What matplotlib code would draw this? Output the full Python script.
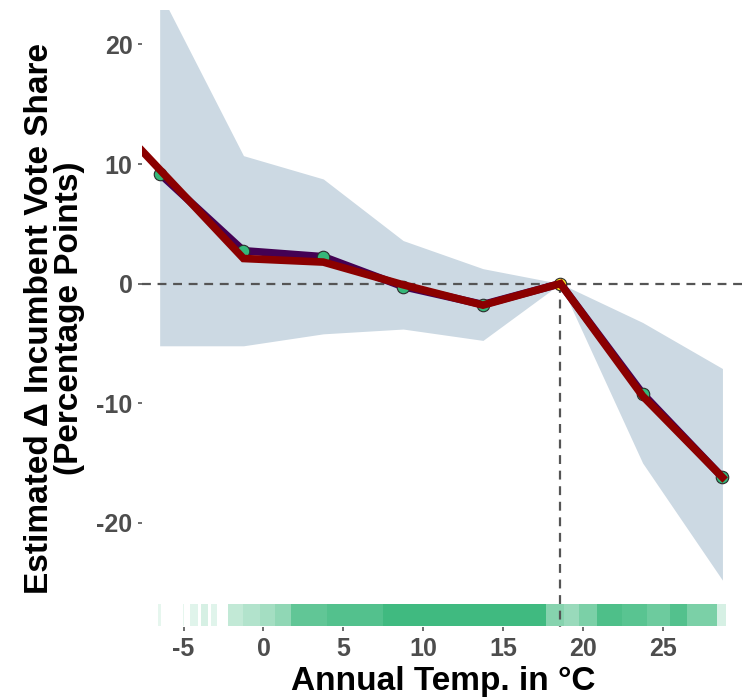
import matplotlib
matplotlib.use("Agg")
import matplotlib.pyplot as plt

# bin midpoints (annual temp, C) and estimates
temp_bins = [-6.5, -1.25, 3.75, 8.75, 13.75, 18.6, 23.75, 28.75]
est = [9.2, 2.75, 2.25, -0.25, -1.75, 0.0, -9.2, -16.2]
ci_upper = [24.4, 10.7, 8.75, 3.6, 1.25, 0.0, -3.25, -7.1]
ci_lower = [-5.2, -5.2, -4.2, -3.8, -4.75, 0.0, -15.0, -24.8]
ref_temp = 18.6

# second (red) fit
fit_x = [-7.6, -1.25, 3.75, 8.75, 13.75, 18.6, 23.75, 28.75]
fit_y = [11.1, 2.1, 1.8, -0.1, -1.8, 0.0, -9.4, -16.2]

# rug of observations: segments (start, end, opacity)
rug_start = [-6.6, -5.05, -4.6, -3.9, -3.3, -2.25, -1.3, -0.2, 0.75, 1.7, 4.0, 7.5,
             17.7, 18.85, 19.75, 20.9, 22.45, 24.0, 25.45, 26.55, 28.4]
rug_end = [-6.4, -4.95, -4.1, -3.5, -2.9, -1.3, -0.2, 0.75, 1.7, 4.0, 7.5, 17.7,
           18.85, 19.75, 20.9, 22.45, 24.0, 25.45, 26.55, 28.4, 29.0]
rug_alpha = [0.12, 0.12, 0.15, 0.2, 0.15, 0.3, 0.38, 0.45, 0.55, 0.78, 0.85, 0.95,
             0.6, 0.5, 0.65, 0.88, 0.82, 0.72, 0.85, 0.65, 0.2]

plt.rcParams['font.family'] = ['Liberation Sans', 'DejaVu Sans']
plt.rcParams['axes.unicode_minus'] = False

fig = plt.figure(figsize=(7.44, 6.98), dpi=100)
ax = fig.add_axes([0.191, 0.102, 0.809, 0.884])

green = "#35b779"

ax.fill_between(temp_bins, ci_lower, ci_upper, color="#ccd9e3", lw=0, zorder=1)

for a, b, al in zip(rug_start, rug_end, rug_alpha):
    ax.fill_between([a, b], -28.6, -26.8, color=green, alpha=al, lw=0, zorder=2)

ax.axhline(0, color="#555555", lw=1.6, ls=(0, (4, 3)), zorder=3)
ax.plot([ref_temp, ref_temp], [0, -30], color="#555555", lw=1.6, ls=(0, (4, 3)), zorder=3)

ax.plot(temp_bins, est, color="#440154", lw=5.5, solid_joinstyle="miter", zorder=4)
ax.plot(temp_bins[:5] + temp_bins[6:], est[:5] + est[6:], "o", color=green,
        mec="#2b2b2b", mew=0.8, ms=9, zorder=5)
ax.plot([ref_temp], [0], "o", color="#fde725", mec="#2b2b2b", mew=0.8, ms=9, zorder=5)
ax.plot(fit_x, fit_y, color="#8b0000", lw=5.5, solid_joinstyle="miter", zorder=6)

ax.set_xlim(-7.6, 30.1)
ax.set_ylim(-28.7, 22.9)
ax.set_xticks([-5, 0, 5, 10, 15, 20, 25])
ax.set_yticks([-20, -10, 0, 10, 20])
ax.tick_params(length=3, width=1.2, color="#555555", labelcolor="#4d4d4d",
               labelsize=18, pad=4)
for lab in ax.get_xticklabels() + ax.get_yticklabels():
    lab.set_fontweight("bold")
for s in ax.spines.values():
    s.set_visible(False)

ax.set_xlabel("Annual Temp. in °C", fontsize=24, fontweight="bold", labelpad=4)
ax.set_ylabel("Estimated Δ Incumbent Vote Share\n(Percentage Points)",
              fontsize=24, fontweight="bold", labelpad=8, linespacing=0.95)

fig.savefig("out.png", dpi=100)
